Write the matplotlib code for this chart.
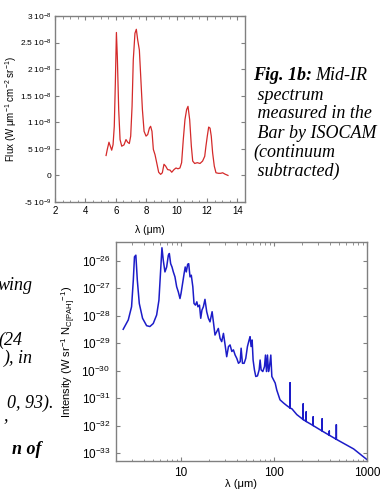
import numpy as np
import matplotlib
matplotlib.use("Agg")
import matplotlib.pyplot as plt
from matplotlib.ticker import FixedLocator, FixedFormatter, MultipleLocator, LogLocator, NullFormatter

plt.rcParams['font.family'] = ['Liberation Sans', 'DejaVu Sans']
plt.rcParams['mathtext.fontset'] = 'custom'
plt.rcParams['mathtext.rm'] = 'Liberation Sans'
plt.rcParams['mathtext.it'] = 'Liberation Sans:italic'
plt.rcParams['mathtext.bf'] = 'Liberation Sans:bold'
plt.rcParams['mathtext.default'] = 'regular'

# ---------------- data: top panel (ISOCAM mid-IR spectrum) ----------------
top_wave = [5.36, 5.44, 5.55, 5.64, 5.73, 5.82, 5.90, 5.97, 6.04, 6.10, 6.19, 6.28,
            6.39, 6.54, 6.67, 6.78, 6.89, 6.98, 7.07, 7.15, 7.26, 7.35, 7.44, 7.55,
            7.64, 7.75, 7.86, 7.99, 8.10, 8.21, 8.29, 8.38, 8.47, 8.58, 8.69, 8.82,
            8.95, 9.06, 9.17, 9.28, 9.41, 9.57, 9.68, 9.83, 9.96, 10.09, 10.22, 10.33,
            10.44, 10.55, 10.66, 10.75, 10.86, 10.97, 11.06, 11.19, 11.36, 11.54, 11.71,
            11.85, 11.93, 12.02, 12.11, 12.20, 12.28, 12.37, 12.48, 12.59, 12.75, 12.90,
            13.03, 13.18, 13.38]
top_flux = [3.75, 4.9, 6.25, 5.5, 4.75, 5.8, 9.25, 17.4, 26.9, 22.4, 12.4, 6.75,
            5.5, 5.75, 6.75, 6.25, 6.0, 7.4, 13.0, 21.75, 26.75, 27.5, 25.5, 23.6,
            18.6, 12.4, 8.3, 7.4, 7.7, 8.9, 9.25, 8.3, 4.9, 3.9, 2.4, 0.6,
            0.2, 0.5, 2.1, 1.75, 1.1, 1.0, 0.6, 1.1, 1.4, 1.25, 1.4, 2.4,
            6.75, 10.5, 12.4, 13.0, 10.5, 5.5, 2.7, 2.25, 2.4, 2.25, 2.7,
            3.6, 5.5, 7.4, 9.1, 8.9, 7.4, 4.25, 1.75, 0.5, 0.4, 0.4,
            0.5, 0.25, 0.0]  # units of 1e-9
top_yticks = [-5e-9, 0, 5e-9, 1e-8, 1.5e-8, 2e-8, 2.5e-8, 3e-8]
top_ytick_labels = [r'$\text{-}5\ 10^{-9}$', '0', r'$5\ 10^{-9}$', r'$1\ 10^{-8}$',
                    r'$1.5\ 10^{-8}$', r'$2\ 10^{-8}$', r'$2.5\ 10^{-8}$', r'$3\ 10^{-8}$']
top_xticks = [2, 4, 6, 8, 10, 12, 14]

# ---------------- data: bottom panel (model PAH emission) ----------------
bot_wave = [2.39, 2.71, 2.94, 3.07, 3.16, 3.27, 3.39, 3.56, 3.86, 4.27, 4.63, 5.03,
            5.47, 5.79, 6.04, 6.24, 6.45, 6.72, 7.01, 7.31, 7.49, 7.74, 8.0, 8.27,
            8.61, 8.98, 9.36, 9.75, 10.0, 10.4, 10.8, 11.1, 11.4, 11.8, 12.1, 12.5,
            12.9, 13.4, 13.8, 14.3, 14.8, 15.2, 15.8, 16.3, 16.8, 17.4, 18.1, 18.9,
            19.7, 20.5, 21.6, 22.3, 23.2, 24.2, 25.2, 26.3, 27.4, 28.6, 29.8, 31.0,
            32.4, 33.7, 35.2, 36.6, 38.2, 39.8, 41.5, 43.3, 44.3, 45.8, 47.7, 49.7,
            51.8, 54.0, 55.3, 56.7, 58.2, 59.6, 61.6, 63.7, 66.4, 69.2, 70.9, 72.7,
            75.8, 79.0, 81.0, 83.0, 85.1, 87.3, 89.4, 92.4, 94.8, 98.8, 103, 107,
            116, 127, 137, 149, 149, 149, 156, 176, 206, 206, 206, 222, 222, 222,
            264, 264, 264, 330, 330, 330, 393, 393, 393, 468, 468, 468, 718, 1000]
bot_logI = [-28.49, -28.15, -27.67, -26.70, -25.85, -25.79, -26.70, -27.55, -28.09, -28.36, -28.39, -28.28,
            -27.97, -27.43, -26.34, -25.52, -25.98, -26.40, -26.22, -25.79, -25.73, -26.10, -26.22, -26.40,
            -26.58, -26.94, -27.13, -27.37, -27.19, -26.82, -26.46, -26.22, -26.40, -26.12, -26.10, -26.58,
            -26.52, -26.94, -27.55, -27.61, -27.49, -27.67, -27.61, -28.09, -27.79, -27.67, -27.40, -27.85,
            -28.09, -28.22, -27.85, -28.22, -28.70, -28.58, -28.46, -28.82, -28.94, -28.64, -29.06, -29.49,
            -29.12, -29.06, -29.30, -29.24, -29.43, -29.55, -29.73, -29.67, -29.18, -29.73, -29.73, -29.55,
            -29.12, -28.88, -28.76, -29.12, -28.88, -29.61, -29.97, -30.21, -30.19, -29.97, -29.61, -29.97,
            -30.03, -29.85, -29.43, -30.03, -29.43, -30.03, -29.85, -29.43, -30.21, -30.33, -30.45, -30.70,
            -31.06, -31.18, -31.27, -31.36, -30.44, -31.36, -31.39, -31.60, -31.78, -31.21, -31.78, -31.85, -31.50, -31.85,
            -32.00, -31.68, -32.00, -32.20, -31.75, -32.20, -32.35, -32.20, -32.35, -32.50, -31.97, -32.50, -32.85, -33.24]
bot_yticks = [1e-33, 1e-32, 1e-31, 1e-30, 1e-29, 1e-28, 1e-27, 1e-26]
bot_ytick_labels = [r'$10^{-33}$', r'$10^{-32}$', r'$10^{-31}$', r'$10^{-30}$',
                    r'$10^{-29}$', r'$10^{-28}$', r'$10^{-27}$', r'$10^{-26}$']
bot_xticks = [10, 100, 1000]
bot_xtick_labels = ['10', '100', '1000']

# ---------------- figure ----------------
W, H = 381, 491
fig = plt.figure(figsize=(W / 100, H / 100), dpi=100)
frame_col = '#808080'

def style_axes(ax):
    for s in ax.spines.values():
        s.set_color(frame_col)
        s.set_linewidth(1.0)
    ax.tick_params(which='both', direction='in', top=True, right=True, color=frame_col)
    ax.tick_params(which='major', length=3, width=0.8)
    ax.tick_params(which='minor', length=1.8, width=0.6)

# top panel
ax1 = fig.add_axes([55 / W, 1 - 202 / H, 190 / W, 186 / H])
ax1.plot(top_wave, np.array(top_flux) * 1e-9, color='#d42a2a', lw=0.9)
ax1.set_xlim(2, 14.5)
ax1.set_ylim(-5e-9, 3e-8)
ax1.yaxis.set_major_locator(FixedLocator(top_yticks))
ax1.yaxis.set_major_formatter(FixedFormatter(top_ytick_labels))
ax1.xaxis.set_major_locator(FixedLocator(top_xticks))
ax1.xaxis.set_minor_locator(MultipleLocator(0.5))
style_axes(ax1)
ax1.tick_params(axis='y', which='minor', left=False, right=False)
ax1.tick_params(axis='y', labelsize=6, pad=2.5)
ax1.tick_params(axis='x', labelsize=7, pad=3)
ax1.set_xlabel('λ (μm)', fontsize=7.5)
ax1.xaxis.set_label_coords(0.5, -0.125)
ax1.set_ylabel(r'Flux (W $\mu$m$^{-1}$ cm$^{-2}$ sr$^{-1}$)', fontsize=7)
ax1.yaxis.set_label_coords(-0.188, 0.5)

# bottom panel
ax2 = fig.add_axes([116 / W, 1 - 461 / H, 251 / W, 219 / H])
ax2.plot(bot_wave, 10 ** np.array(bot_logI), color='#1c1cc8', lw=1.1)
ax2.set_xscale('log')
ax2.set_yscale('log')
ax2.set_xlim(2, 1000)
ax2.set_ylim(10 ** -33.29, 10 ** -25.31)
ax2.yaxis.set_major_locator(FixedLocator(bot_yticks))
ax2.yaxis.set_major_formatter(FixedFormatter(bot_ytick_labels))
ax2.yaxis.set_minor_locator(FixedLocator([]))
ax2.xaxis.set_major_locator(FixedLocator(bot_xticks))
ax2.xaxis.set_major_formatter(FixedFormatter(bot_xtick_labels))
ax2.xaxis.set_minor_locator(LogLocator(base=10, subs=np.arange(2, 10)))
ax2.xaxis.set_minor_formatter(NullFormatter())
style_axes(ax2)
ax2.tick_params(labelsize=8.5, pad=4)
ax2.set_xlabel('λ (μm)', fontsize=8)
ax2.xaxis.set_label_coords(0.5, -0.08)
ax2.set_ylabel(r'Intensity (W sr$^{-1}$ N$_{C[PAH]}$$^{-1}$)', fontsize=8)
ax2.yaxis.set_label_coords(-0.152, 0.5)

# right caption of the top figure
serif = ['Liberation Serif', 'DejaVu Serif']
fs = 13
cap_x = 253 / W
fig.text(cap_x, 1 - 76 / H, 'Fig. 1b:', family=serif, style='italic', weight='bold',
         fontsize=fs, va='center', ha='left')
fig.text(cap_x + 62 / W, 1 - 76 / H, 'Mid-IR', family=serif, style='italic',
         fontsize=fs, va='center', ha='left')
cap_lines = [(' spectrum', 95), (' measured in the', 114), (' Bar by ISOCAM', 133),
             ('(continuum', 152), (' subtracted)', 171)]
for txt, yy in cap_lines:
    fig.text(cap_x, 1 - yy / H, txt, family=serif, style='italic', fontsize=fs,
             va='center', ha='left')

# cut-off text on the left of the bottom figure
left_lines = [('wing', 33, 285, 'normal'), ('(24', 22, 340, 'normal'),
              ('), in', 33, 358, 'normal'), ('0, 93).', 53, 403, 'normal'),
              (',', 8, 416, 'normal'), ('n of', 42, 450, 'bold')]
for txt, xr, yy, wt in left_lines:
    fig.text(xr / W, 1 - yy / H, txt, family=serif, style='italic', weight=wt,
             fontsize=fs, va='center', ha='right')

fig.savefig('out.png', dpi=100)
